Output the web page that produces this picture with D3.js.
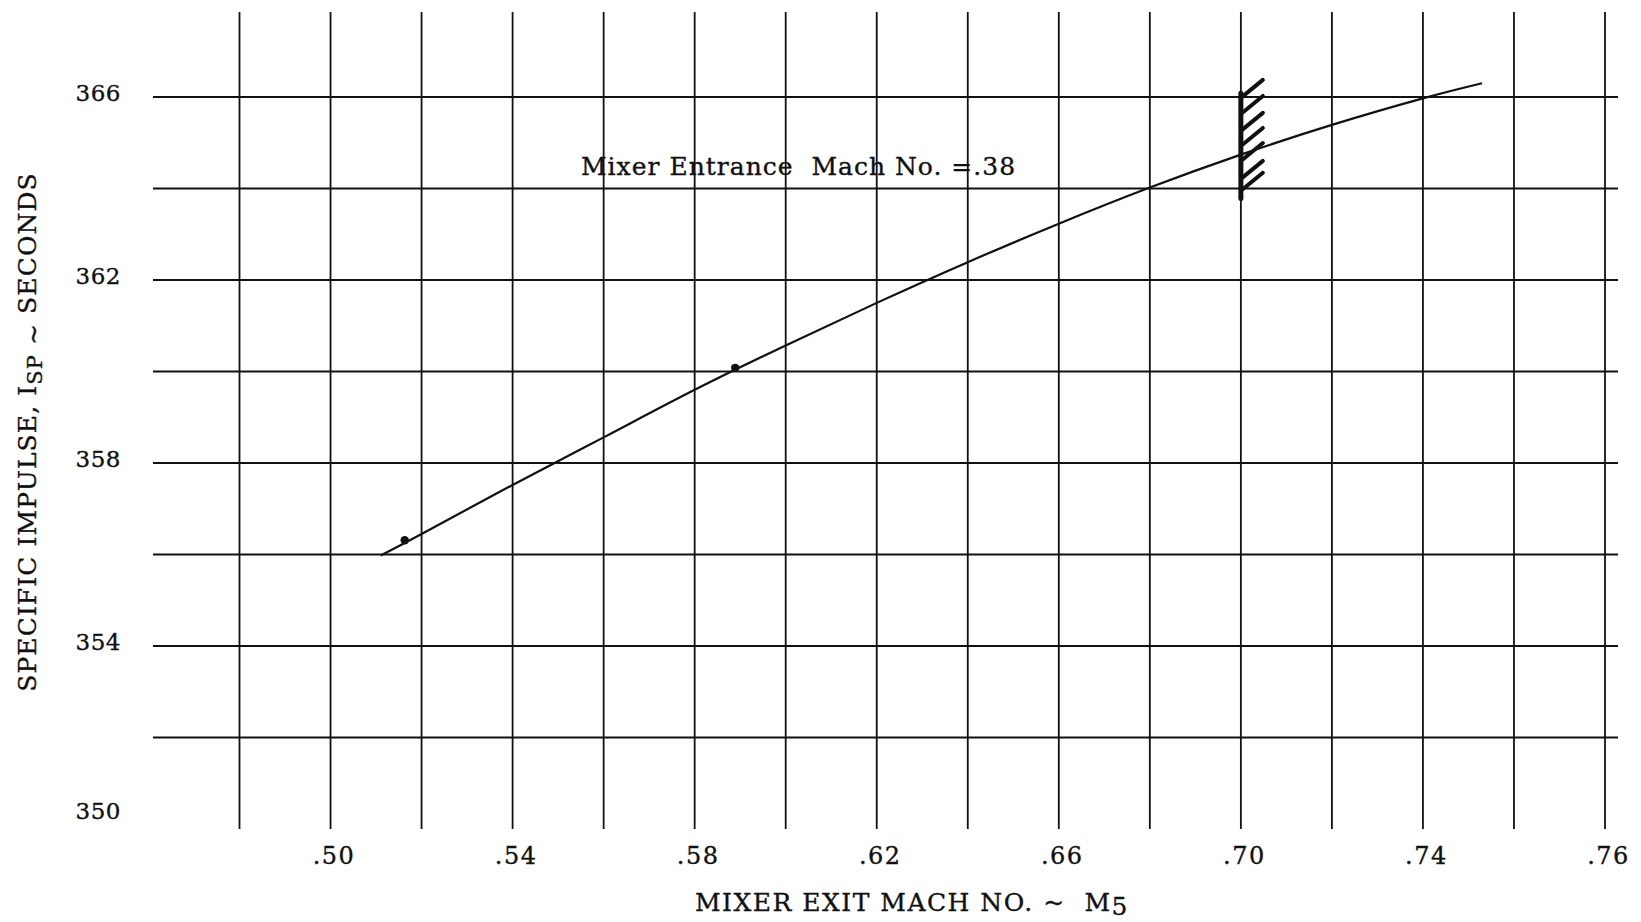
<!DOCTYPE html>
<html>
<head>
<meta charset="utf-8">
<script src="https://cdn.jsdelivr.net/npm/d3@7"></script>
<style>
  body { margin: 0; background: #fff; }
  svg { display: block; }
  text { font-family: "DejaVu Serif", "Liberation Serif", serif; fill: #111; stroke: #111; stroke-width: 0.35px; }
</style>
</head>
<body>
<div id="chart"></div>
<script>
const width = 1641;
const height = 922;

// grid lines (mach no. and seconds)
const gridX = [0.48, 0.50, 0.52, 0.54, 0.56, 0.58, 0.60, 0.62, 0.64, 0.66, 0.68, 0.70, 0.72, 0.74, 0.76, 0.78];
const gridY = [352, 354, 356, 358, 360, 362, 364, 366];

// tick labels as printed (last one reads .76 on the original)
const xTickValues = [0.50, 0.54, 0.58, 0.62, 0.66, 0.70, 0.74, 0.78];
const xTickLabels = [".50", ".54", ".58", ".62", ".66", ".70", ".74", ".76"];
const yTickValues = [366, 362, 358, 354, 350];
const yTickLabels = ["366", "362", "358", "354", "350"];

// faired curve
const curveMach = [0.511, 0.52, 0.54, 0.56, 0.58, 0.60, 0.62, 0.64, 0.66, 0.68, 0.70, 0.72, 0.74, 0.753];
const curveIsp  = [355.98, 356.45, 357.52, 358.56, 359.60, 360.57, 361.50, 362.39, 363.23, 364.02, 364.74, 365.39, 365.97, 366.30];

// test points
const pointMach = [0.5163, 0.5889];
const pointIsp  = [356.31, 360.08];

// hatched limit at M5 = .70
const limitMach = 0.70;
const limitIspRange = [363.78, 366.08];
const hatchIsp = [365.98, 365.63, 365.26, 364.93, 364.60, 364.21, 363.95];

const x = d3.scaleLinear().domain([0.48, 0.78]).range([239.5, 1605]);
const y = d3.scaleLinear().domain([350, 366]).range([829, 97]);

const svg = d3.select("#chart").append("svg")
    .attr("width", width)
    .attr("height", height);

const grid = svg.append("g")
    .attr("stroke", "#111")
    .attr("fill", "none");

// vertical lines
grid.selectAll("line.v")
    .data(gridX)
    .enter()
    .append("line")
    .attr("class", "v")
    .attr("x1", d => x(d))
    .attr("x2", d => x(d))
    .attr("y1", 12)
    .attr("y2", y(350))
    .attr("stroke-width", 1.8);

// horizontal lines
grid.selectAll("line.h")
    .data(gridY)
    .enter()
    .append("line")
    .attr("class", "h")
    .attr("x1", 153)
    .attr("x2", 1618)
    .attr("y1", d => y(d))
    .attr("y2", d => y(d))
    .attr("stroke-width", 2.2);

// axes, labels only
const xAxis = d3.axisBottom(x)
    .tickValues(xTickValues)
    .tickSize(0)
    .tickFormat((d, i) => xTickLabels[i]);

const gx = svg.append("g")
    .attr("transform", "translate(3,861)")
    .call(xAxis);
gx.select(".domain").remove();
gx.selectAll("text")
    .attr("dy", 0)
    .attr("font-size", 24)
    .attr("letter-spacing", 1.5)
    .style("font-family", "DejaVu Serif");

const yAxis = d3.axisLeft(y)
    .tickValues(yTickValues)
    .tickSize(0)
    .tickFormat((d, i) => yTickLabels[i]);

const gy = svg.append("g")
    .attr("transform", "translate(121,0)")
    .call(yAxis);
gy.select(".domain").remove();
gy.selectAll("text")
    .attr("x", 0)
    .attr("dy", d => d === 350 ? "-0.45em" : "0.15em")
    .attr("font-size", 23)
    .attr("letter-spacing", 0.5)
    .style("font-family", "DejaVu Serif");

// curve
const line = d3.line()
    .x(d => x(d[0]))
    .y(d => y(d[1]))
    .curve(d3.curveNatural);

svg.append("path")
    .datum(curveMach.map((m, i) => [m, curveIsp[i]]))
    .attr("d", line)
    .attr("fill", "none")
    .attr("stroke", "#111")
    .attr("stroke-width", 2.2);

svg.selectAll("circle.pt")
    .data(pointMach)
    .enter()
    .append("circle")
    .attr("class", "pt")
    .attr("cx", d => x(d))
    .attr("cy", (d, i) => y(pointIsp[i]))
    .attr("r", 4.2)
    .attr("fill", "#111");

// hatch
const hatch = svg.append("g").attr("stroke", "#111").attr("stroke-linecap", "round");
hatch.append("line")
    .attr("x1", x(limitMach))
    .attr("x2", x(limitMach))
    .attr("y1", y(limitIspRange[1]))
    .attr("y2", y(limitIspRange[0]))
    .attr("stroke-width", 5);
hatch.selectAll("line.s")
    .data(hatchIsp)
    .enter()
    .append("line")
    .attr("class", "s")
    .attr("x1", x(limitMach))
    .attr("y1", d => y(d))
    .attr("x2", x(limitMach) + 22)
    .attr("y2", d => y(d) - 18)
    .attr("stroke-width", 4);

// annotation
svg.append("text")
    .attr("x", 581)
    .attr("y", 175)
    .attr("font-size", 25)
    .attr("letter-spacing", 1)
    .style("white-space", "pre")
    .text("Mixer Entrance  Mach No. =.38");

// x title
const xt = svg.append("text")
    .attr("x", 912)
    .attr("y", 911)
    .attr("text-anchor", "middle")
    .attr("font-size", 25)
    .attr("letter-spacing", 1.5)
    .style("white-space", "pre");
xt.append("tspan").text("MIXER EXIT MACH NO. ~  M");
xt.append("tspan").attr("dy", 4).text("5");

// y title
const yt = svg.append("text")
    .attr("transform", "translate(36,432) rotate(-90)")
    .attr("text-anchor", "middle")
    .attr("font-size", 25)
    .attr("letter-spacing", 1.1);
yt.append("tspan").text("SPECIFIC IMPULSE, I");
yt.append("tspan").attr("dy", 6).attr("font-size", 21).text("SP");
yt.append("tspan").attr("dy", 0).text(" ~ ");
yt.append("tspan").attr("dy", -6).text("SECONDS");
</script>
</body>
</html>
